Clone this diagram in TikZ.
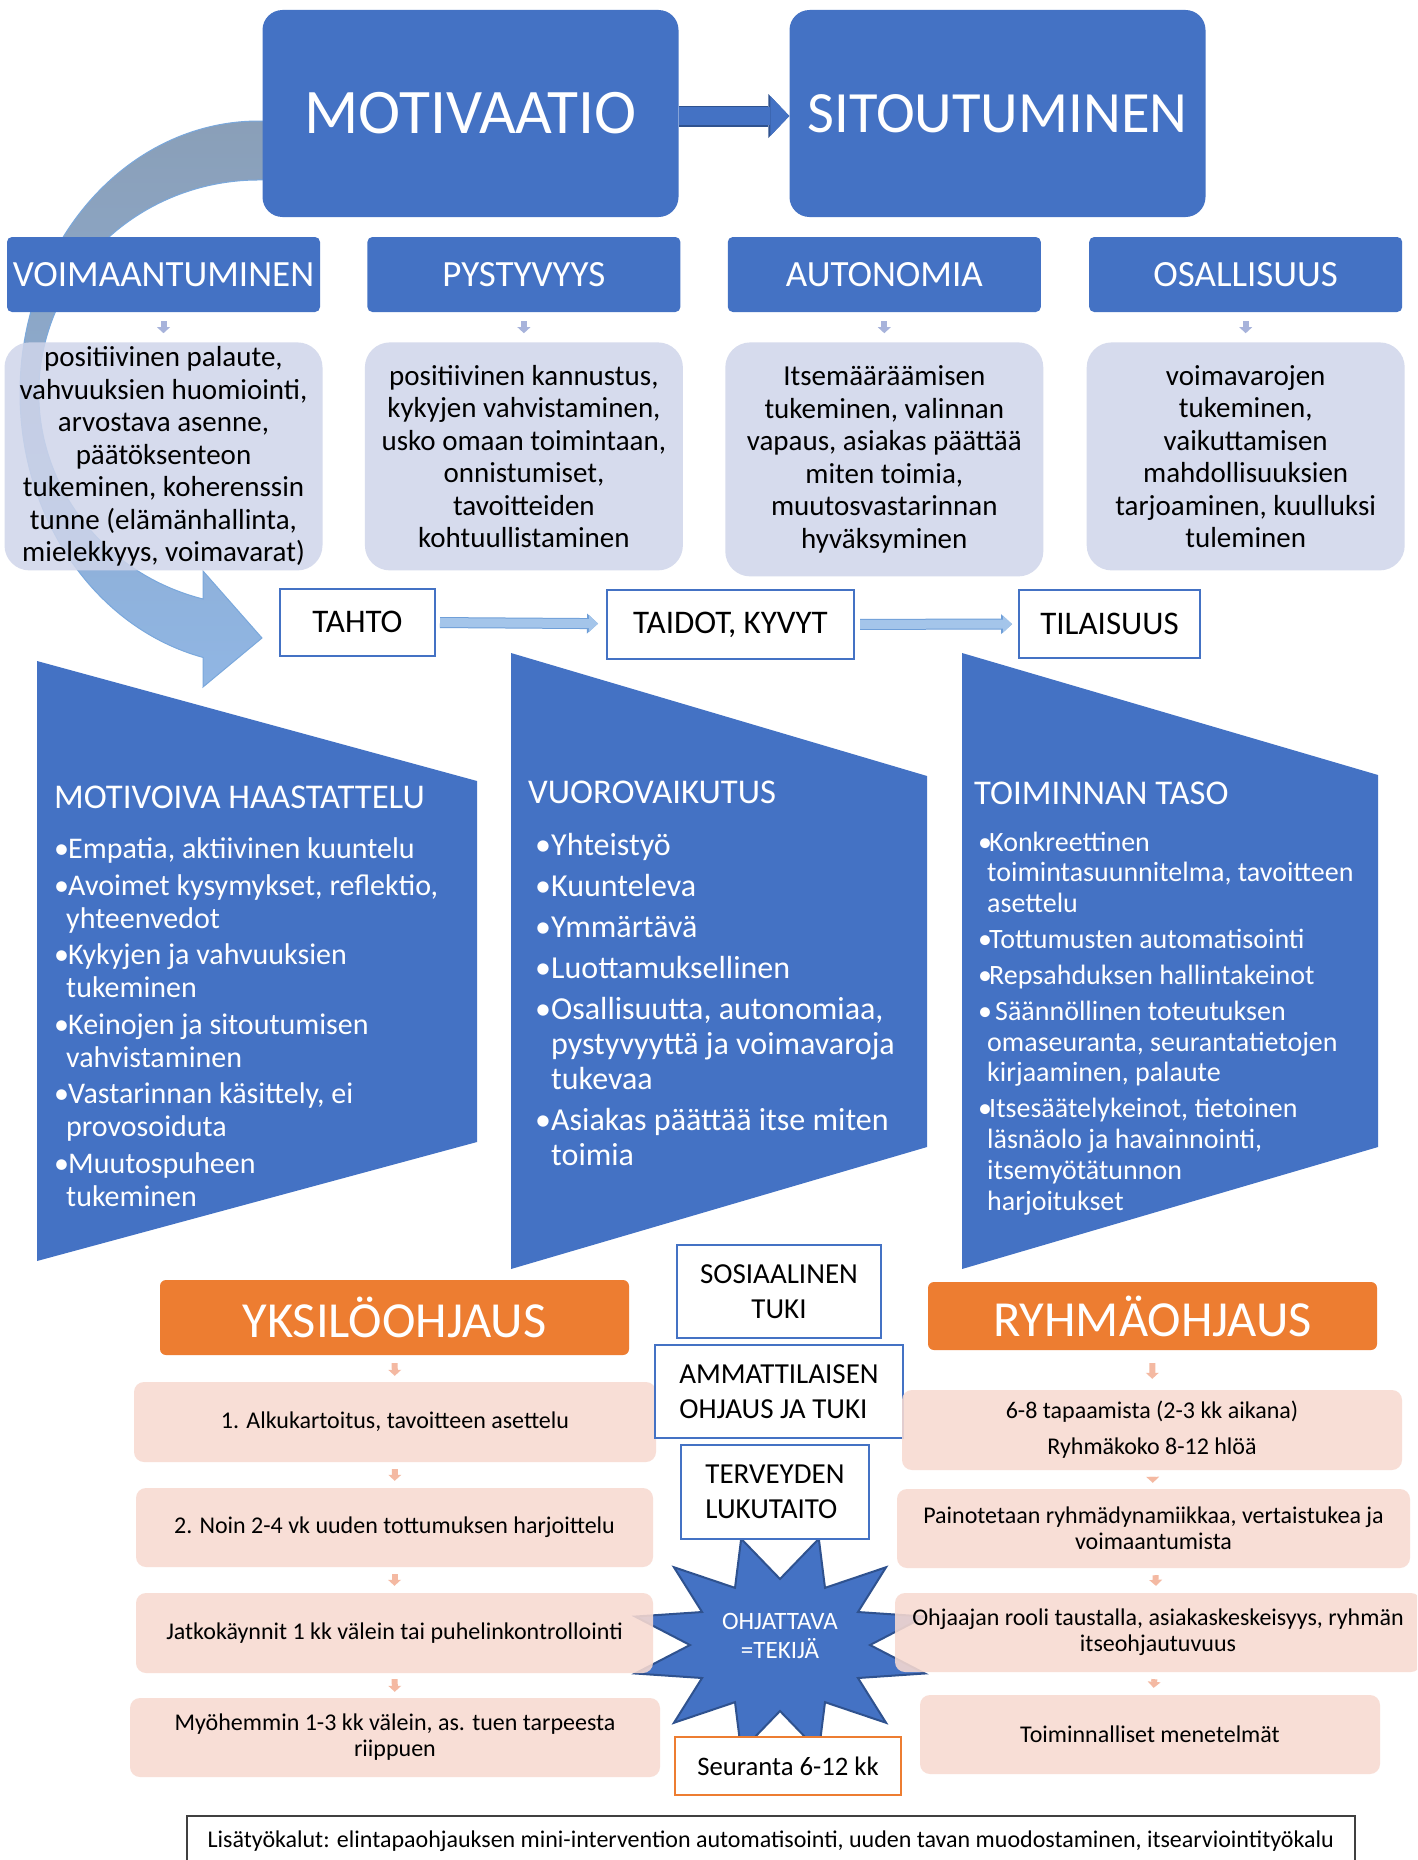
\documentclass[tikz,border=0pt]{standalone}
\usepackage{fontspec}
\setmainfont{Carlito}
\usetikzlibrary{arrows.meta,positioning,calc}

\definecolor{mainblue}{HTML}{4472C4}
\definecolor{darkblue}{HTML}{2F528F}
\definecolor{lavender}{HTML}{CFD5EA}
\definecolor{lavarrow}{HTML}{A7B3DB}
\definecolor{lightfill}{HTML}{A4C5EA}
\definecolor{lightedge}{HTML}{6F9FD8}
\definecolor{arctop}{HTML}{8A9FB8}
\definecolor{arcbot}{HTML}{90B6E4}
\definecolor{arcedge}{HTML}{7AA8DC}
\definecolor{ofill}{HTML}{ED7D31}
\definecolor{pinkbox}{HTML}{F8DAD1}
\definecolor{pinkarrow}{HTML}{F4B9A2}
\definecolor{footgray}{HTML}{404040}

\newcommand{\fs}[2]{\fontsize{#1}{#2}\selectfont}
\newcommand{\bul}[1][14pt]{\makebox[#1][l]{\textbullet}}

\tikzset{
  topbox/.style={fill=mainblue, rounded corners=20pt, text=white, minimum width=416pt, minimum height=207pt, inner sep=0pt},
  head/.style={fill=mainblue, rounded corners=5pt, text=white, minimum width=313pt, minimum height=75pt, inner sep=0pt, font=\fs{37}{40}},
  info/.style={fill=lavender, fill opacity=0.85, text opacity=1, rounded corners=25pt, minimum width=318pt, minimum height=228pt, inner sep=0pt, align=center, font=\fs{29}{32.5}},
  stage/.style={fill=white, draw=mainblue, line width=2pt, minimum height=67pt, inner sep=0pt, font=\fs{33}{36}},
  lavdown/.style={draw=lavarrow, line width=6pt, -{Triangle[width=13pt,length=6pt,line width=0pt 0 0]}, shorten <=9pt, shorten >=9pt},
  lightarrow/.style={draw=lightfill, line width=9pt, -{Triangle[width=17pt,length=9pt,line width=0pt 0 0]}, preaction={draw=lightedge, line width=11pt, -{Triangle[width=20pt,length=11pt,line width=0pt 0 0]}}},
  bigarrow/.style={draw=mainblue, line width=18pt, -{Triangle[width=40pt,length=19pt,line width=0pt 0 0]}, preaction={draw=darkblue, line width=21pt, -{Triangle[width=44pt,length=21pt,line width=0pt 0 0]}}},
  title/.style={text=white, anchor=base west, inner sep=0pt, font=\fs{34.7}{38}},
  list/.style={text=white, anchor=base west, inner sep=0pt, align=left},
  orangebox/.style={fill=ofill, rounded corners=6pt, text=white, inner sep=0pt, font=\fs{50.5}{54}},
  pink/.style={fill=pinkbox, fill opacity=0.88, text opacity=1, rounded corners=10pt, inner sep=0pt, align=center, font=\fs{24}{26}},
  pinkdown/.style={draw=pinkarrow, line width=6pt, -{Triangle[width=13pt,length=6pt,line width=0pt 0 0]}},
  midbox/.style={fill=white, draw=mainblue, line width=2pt, inner sep=0pt, font=\fs{29}{35}},
}

\begin{document}
\begin{tikzpicture}[x=1pt, y=-1pt]
\useasboundingbox (0,0) rectangle (1417,1860);
\clip (0,0) rectangle (1417,1860);
\fill[white] (0,0) rectangle (1417,1860);

\shade[top color=arctop, bottom color=arcbot, draw=arcedge, line width=1pt] (270,121) -- (259,121)
  arc[start angle=270, end angle=103.5, x radius=239, y radius=272] -- (203,687) -- (262,638) -- (203,571) -- (203,599)
  arc[start angle=104.7, end angle=270, x radius=220, y radius=213] -- (270,180) -- cycle;

\node[topbox, font=\fs{63.5}{70}] (motiv) at (470.5,113.5) {MOTIVAATIO};
\node[topbox, font=\fs{58.5}{64}] (sit) at (997.5,113.5) {SITOUTUMINEN};
\draw[bigarrow] ([yshift=-2.5pt]motiv.east) -- ([yshift=-2.5pt]sit.west);

\node[head] (voim) at (163.5,274.5) {VOIMAANTUMINEN};
\node[head, right=47pt of voim] (pyst) {PYSTYVYYS};
\node[head, right=47pt of pyst] (auto) {AUTONOMIA};
\node[head, right=48pt of auto] (osal) {OSALLISUUS};

\node[info, below=30pt of voim] (voimtxt) {positiivinen palaute,\\vahvuuksien huomiointi,\\arvostava asenne,\\päätöksenteon\\tukeminen, koherenssin\\tunne (elämänhallinta,\\mielekkyys, voimavarat)};
\node[info, below=30pt of pyst] (pysttxt) {positiivinen kannustus,\\kykyjen vahvistaminen,\\usko omaan toimintaan,\\onnistumiset,\\tavoitteiden\\kohtuullistaminen};
\node[info, below=30pt of auto, minimum height=234pt] (autotxt) {Itsemääräämisen\\tukeminen, valinnan\\vapaus, asiakas päättää\\miten toimia,\\muutosvastarinnan\\hyväksyminen};
\node[info, below=30pt of osal] (osaltxt) {voimavarojen\\tukeminen,\\vaikuttamisen\\mahdollisuuksien\\tarjoaminen, kuulluksi\\tuleminen};
\draw[lavdown] (voim) -- (voimtxt);
\draw[lavdown] (pyst) -- (pysttxt);
\draw[lavdown] (auto) -- (autotxt);
\draw[lavdown] (osal) -- (osaltxt);

\node[stage, minimum width=155pt] (tahto) at (357.5,622) {TAHTO};
\node[stage, minimum width=247pt, minimum height=69pt] (taidot) at (730.5,624.5) {TAIDOT, KYVYT};
\node[stage, minimum width=181pt, minimum height=68pt] (tila) at (1109.5,624) {TILAISUUS};
\draw[lightarrow, shorten <=4pt, shorten >=8pt] (tahto) -- (taidot);
\draw[lightarrow, shorten <=5pt, shorten >=6pt] (taidot) -- (tila);

\fill[mainblue] (37,661) -- (477,781) -- (477,1142) -- (37,1261) -- cycle;
\fill[mainblue] (511,653) -- (927,776) -- (927,1147) -- (511,1269) -- cycle;
\fill[mainblue] (962,653) -- (1378,775) -- (1378,1147) -- (962,1269) -- cycle;

\node[title] (mh) at (54,808) {MOTIVOIVA HAASTATTELU};
\node[list, font=\fs{30}{33}] (mhlist) at (54,1206.5) {\bul Empatia, aktiivinen kuuntelu\\[3.6pt]
\bul Avoimet kysymykset, reflektio,\\
\hspace*{12pt}yhteenvedot\\[3.6pt]
\bul Kykyjen ja vahvuuksien\\
\hspace*{12pt}tukeminen\\[3.6pt]
\bul Keinojen ja sitoutumisen\\
\hspace*{12pt}vahvistaminen\\[3.6pt]
\bul Vastarinnan käsittely, ei\\
\hspace*{12pt}provosoiduta\\[3.6pt]
\bul Muutospuheen\\
\hspace*{12pt}tukeminen};

\node[title] (vv) at (528,803) {VUOROVAIKUTUS};
\node[list, font=\fs{32}{35}] (vvlist) at (535,1165.5) {\bul[16pt]Yhteistyö\\[6pt]
\bul[16pt]Kuunteleva\\[6pt]
\bul[16pt]Ymmärtävä\\[6pt]
\bul[16pt]Luottamuksellinen\\[6pt]
\bul[16pt]Osallisuutta, autonomiaa,\\
\hspace*{16pt}pystyvyyttä ja voimavaroja\\
\hspace*{16pt}tukevaa\\[6pt]
\bul[16pt]Asiakas päättää itse miten\\
\hspace*{16pt}toimia};

\node[title] (tt) at (974,804) {TOIMINNAN TASO};
\node[list, font=\fs{28}{30.7}] (ttlist) at (978,1210) {\bul[11pt]Konkreettinen\\
\hspace*{9pt}toimintasuunnitelma, tavoitteen\\
\hspace*{9pt}asettelu\\[5.3pt]
\bul[11pt]Tottumusten automatisointi\\[5.3pt]
\bul[11pt]Repsahduksen hallintakeinot\\[5.3pt]
\bul[17pt]Säännöllinen toteutuksen\\
\hspace*{9pt}omaseuranta, seurantatietojen\\
\hspace*{9pt}kirjaaminen, palaute\\[5.3pt]
\bul[11pt]Itsesäätelykeinot, tietoinen\\
\hspace*{9pt}läsnäolo ja havainnointi,\\
\hspace*{9pt}itsemyötätunnon\\
\hspace*{9pt}harjoitukset};

\filldraw[fill=mainblue, draw=darkblue, line width=2pt] (870,1645)
  \foreach \k in {0,...,11} { -- ({780+150*cos(30*\k+15)},{1645-110*sin(30*\k+15)}) -- ({780+90*cos(30*\k+30)},{1645-66*sin(30*\k+30)}) } -- cycle;
\node[text=white, align=center, font=\fs{25}{29}] (ohj) at (780,1636) {OHJATTAVA\\=TEKIJÄ};

\node[orangebox, minimum width=469pt, minimum height=75pt] (yks) at (394.5,1317.5) {YKSILÖOHJAUS};
\node[pink, minimum width=522pt, minimum height=80pt] (a1) at (395,1422) {1. Alkukartoitus, tavoitteen asettelu};
\node[pink, minimum width=517pt, minimum height=79pt] (a2) at (394.5,1527.5) {2. Noin 2-4 vk uuden tottumuksen harjoittelu};
\node[pink, minimum width=517pt, minimum height=80pt] (a3) at (394.5,1633) {Jatkokäynnit 1 kk välein tai puhelinkontrollointi};
\node[pink, minimum width=530pt, minimum height=79pt] (a4) at (395,1737.5) {Myöhemmin 1-3 kk välein, as. tuen tarpeesta\\riippuen};
\draw[pinkdown, shorten <=8pt, shorten >=6pt] (yks) -- (a1);
\draw[pinkdown, shorten <=7pt, shorten >=7pt] (a1) -- (a2);
\draw[pinkdown, shorten <=7pt, shorten >=7pt] (a2) -- (a3);
\draw[pinkdown, shorten <=6pt, shorten >=6pt] (a3) -- (a4);

\node[midbox, minimum width=204pt, minimum height=93pt, align=center] (sos) at (779,1291.5) {SOSIAALINEN\\TUKI};
\node[midbox, minimum width=248pt, minimum height=93pt, align=left] (amm) at (779,1391.5) {AMMATTILAISEN\\OHJAUS JA TUKI};
\node[midbox, minimum width=188pt, minimum height=94pt, align=left] (ter) at (775,1492) {TERVEYDEN\\LUKUTAITO};
\node[midbox, draw=ofill, minimum width=226pt, minimum height=58pt, font=\fs{26.7}{30}] (seur) at (788,1766) {Seuranta 6-12 kk};

\node[orangebox, minimum width=449pt, minimum height=68pt] (ryh) at (1152.5,1316) {RYHMÄOHJAUS};
\node[pink, minimum width=500pt, minimum height=80pt] (r1) at (1152,1430) {6-8 tapaamista (2-3 kk aikana)\\[10pt]Ryhmäkoko 8-12 hlöä};
\node[pink, minimum width=513pt, minimum height=79pt] (r2) at (1153.5,1528.5) {Painotetaan ryhmädynamiikkaa, vertaistukea ja\\voimaantumista};
\node[pink, minimum width=526pt, minimum height=79pt] (r3) at (1158,1632.5) {Ohjaajan rooli taustalla, asiakaskeskeisyys, ryhmän\\itseohjautuvuus};
\node[pink, minimum width=460pt, minimum height=79pt] (r4) at (1150,1734.5) {Toiminnalliset menetelmät};
\draw[pinkdown, shorten <=13pt, shorten >=11pt] (ryh) -- (r1);
\draw[pinkdown, shorten <=7pt, shorten >=6pt] (r1) -- (r2);
\draw[pinkdown, shorten <=7pt, shorten >=7pt] (r2) -- (r3);
\draw[pinkdown, shorten <=7pt, shorten >=7pt] (r3) -- (r4);

\node[draw=footgray, line width=1.5pt, minimum width=1168pt, minimum height=50pt, anchor=north west, inner sep=0pt, font=\fs{24}{26}] (lisa) at (186,1815) {Lisätyökalut: elintapaohjauksen mini-intervention automatisointi, uuden tavan muodostaminen, itsearviointityökalu};
\end{tikzpicture}
\end{document}
